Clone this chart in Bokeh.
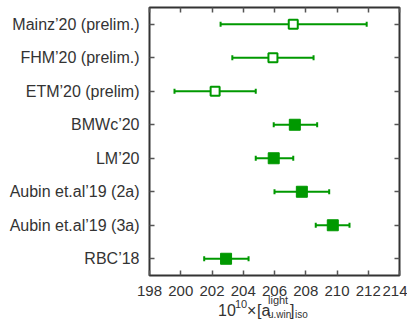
import numpy as np
from bokeh.plotting import figure
from bokeh.layouts import column
from bokeh.models import (FactorRange, Range1d, FixedTicker, LinearAxis, CategoricalAxis,
                          ColumnDataSource, Div)
from bokeh.embed import file_html
from bokeh.resources import INLINE

# ---- data ----
names = ["Mainz\u201920 (prelim.)", "FHM\u201920 (prelim.)", "ETM\u201920 (prelim)", "BMWc\u201920",
         "LM\u201920", "Aubin et.al\u201919 (2a)", "Aubin et.al\u201919 (3a)", "RBC\u201918"]
central = [207.2, 205.9, 202.2, 207.3, 205.95, 207.75, 209.73, 202.9]
lower = [202.55, 203.3, 199.6, 205.95, 204.8, 206.0, 208.64, 201.5]
upper = [211.9, 208.5, 204.8, 208.73, 207.2, 209.5, 210.8, 204.34]
prelim = [True, True, True, False, False, False, False, False]
x_ticks = [198, 200, 202, 204, 206, 208, 210, 212, 214]

GREEN = "#009900"
TXT = "#333333"
FONT = "Liberation Sans"

p = figure(width=407, height=305, output_backend="svg", toolbar_location=None,
           y_range=FactorRange(factors=names[::-1]), x_range=Range1d(198, 214),
           min_border_left=149, min_border_right=8, min_border_top=7, min_border_bottom=30)
p.grid.visible = False
p.outline_line_color = TXT
p.outline_line_width = 2
p.background_fill_color = "white"
p.border_fill_color = "white"

src = ColumnDataSource(dict(name=names, c=central, lo=lower, hi=upper))
p.segment(x0="lo", y0="name", x1="hi", y1="name", source=src, line_color=GREEN, line_width=1.8)
p.scatter(x="lo", y="name", source=src, marker="dash", angle=np.pi / 2, size=5,
          line_color=GREEN, line_width=2)
p.scatter(x="hi", y="name", source=src, marker="dash", angle=np.pi / 2, size=5,
          line_color=GREEN, line_width=2)

open_idx = [i for i, f in enumerate(prelim) if f]
fill_idx = [i for i, f in enumerate(prelim) if not f]
p.scatter(x=[central[i] for i in open_idx], y=[names[i] for i in open_idx], marker="square",
          size=9, line_color=GREEN, line_width=2, fill_color="white")
p.scatter(x=[central[i] for i in fill_idx], y=[names[i] for i in fill_idx], marker="square",
          size=11, line_color=GREEN, fill_color=GREEN)

def style(ax, labels=True, size="16px"):
    ax.axis_line_color = None
    ax.major_tick_in = 5
    ax.major_tick_out = 0
    ax.major_tick_line_color = "#555555"
    ax.major_tick_line_width = 1.5
    ax.minor_tick_line_color = None
    ax.major_label_text_font = FONT
    if labels:
        ax.major_label_text_font_size = size
        ax.major_label_text_color = TXT
    else:
        ax.major_label_text_font_size = "1px"
        ax.major_label_text_color = None
        ax.major_label_standoff = 0

xa = p.xaxis[0]
xa.ticker = FixedTicker(ticks=x_ticks)
style(xa, size="15px")
xa.major_label_standoff = 10
ya = p.yaxis[0]
style(ya)
ya.major_label_standoff = 10

top = LinearAxis(ticker=FixedTicker(ticks=x_ticks))
style(top, labels=False)
p.add_layout(top, "above")
right = CategoricalAxis()
style(right, labels=False)
p.add_layout(right, "right")

# x-axis title as real text with stacked super/subscripts
def span(x, top_px, t, size):
    return (f'<span style="position:absolute;left:{x}px;top:{top_px}px;'
            f'font-size:{size}px;line-height:1;white-space:nowrap;">{t}</span>')

title_html = (
    f'<div style="position:relative;width:407px;height:14px;overflow:visible;'
    f'font-family:\'{FONT}\';color:{TXT};">'
    + span(218, -2.5, "10", 16)
    + span(235, -6.3, "10", 11)
    + span(247, -2.5, "\u00d7", 16)
    + span(257, -2.5, "[a", 16)
    + span(268, -10.3, "light", 11)
    + span(268, 5, "u.win", 10)
    + span(290, -2.5, "]", 16)
    + span(295, 5, "iso", 10)
    + '</div>'
)
div = Div(text=title_html, width=407, height=14, margin=0,
          styles={"overflow": "visible"})

layout = column(p, div, spacing=0)
open("out.html", "w").write(file_html(layout, INLINE))
